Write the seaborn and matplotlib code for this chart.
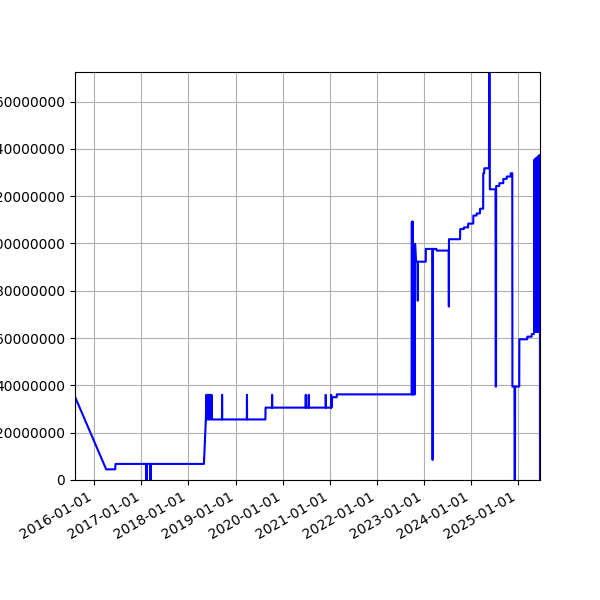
import pandas as pd
import seaborn as sns
import matplotlib
matplotlib.use("Agg")
import matplotlib.pyplot as plt
import matplotlib.dates as mdates
from matplotlib.ticker import ScalarFormatter

# === Data: daily records (values in millions) ===
dates = [
    "2015-08-05", "2016-04-03", "2016-06-12", "2016-06-14",
    "2017-02-09", "2017-02-10", "2017-02-11", "2017-03-12", "2017-03-13", "2017-03-14",
    "2018-05-01", "2018-05-16",
    "2018-05-20", "2018-05-24", "2018-05-28", "2018-06-01", "2018-06-05", "2018-06-09",
    "2018-06-13", "2018-06-17", "2018-06-21", "2018-06-25", "2018-06-29", "2018-07-03",
    "2018-09-18", "2018-09-19", "2018-09-20",
    "2019-03-30", "2019-03-31", "2019-04-01",
    "2019-08-21", "2019-08-22",
    "2019-10-11", "2019-10-12", "2019-10-13",
    "2020-06-28", "2020-06-29", "2020-06-30",
    "2020-07-21", "2020-07-22", "2020-07-23",
    "2020-11-30", "2020-12-01", "2020-12-03",
    "2021-01-11", "2021-01-12", "2021-01-14", "2021-01-20", "2021-02-24", "2021-02-25",
    "2022-09-28", "2022-09-30", "2022-10-02", "2022-10-04", "2022-10-06", "2022-10-08",
    "2022-10-10", "2022-10-13", "2022-10-16", "2022-10-19", "2022-10-22", "2022-10-25",
    "2022-11-01", "2022-11-14", "2022-11-15", "2022-11-16",
    "2023-01-16", "2023-01-17", "2023-03-09", "2023-03-10", "2023-03-11",
    "2023-04-09", "2023-04-10", "2023-07-13", "2023-07-14", "2023-07-15",
    "2023-10-09", "2023-10-10", "2023-11-07", "2023-11-08", "2023-12-10", "2023-12-11",
    "2024-01-19", "2024-01-20", "2024-02-14", "2024-02-15", "2024-03-11", "2024-03-12",
    "2024-04-05", "2024-04-06", "2024-04-13", "2024-04-14",
    "2024-05-20", "2024-05-22", "2024-05-25", "2024-05-27",
    "2024-07-10", "2024-07-11", "2024-07-14", "2024-07-15",
    "2024-08-08", "2024-08-09", "2024-09-08", "2024-09-09", "2024-10-04", "2024-10-05",
    "2024-11-04", "2024-11-05", "2024-11-17", "2024-11-18",
    "2024-12-04", "2024-12-05", "2024-12-08", "2024-12-09",
    "2025-01-10", "2025-01-11", "2025-03-13", "2025-03-14", "2025-04-16", "2025-04-17",
    "2025-05-04", "2025-05-05",
    "2025-05-06", "2025-05-09", "2025-05-12", "2025-05-15", "2025-05-18", "2025-05-21",
    "2025-05-24", "2025-05-27", "2025-05-30", "2025-06-02", "2025-06-05", "2025-06-08",
    "2025-06-11", "2025-06-14", "2025-06-17", "2025-06-19", "2025-06-20",
]
values_m = [
    35.2, 4.5, 4.5, 6.8,
    6.8, 0.0, 6.8, 6.8, 0.0, 6.8,
    6.8, 25.6,
    36.0, 25.6, 36.0, 25.6, 36.0, 25.6,
    36.0, 25.6, 36.0, 25.6, 36.0, 25.6,
    25.6, 36.0, 25.6,
    25.6, 36.0, 25.6,
    25.6, 30.6,
    30.6, 36.0, 30.6,
    30.6, 36.0, 30.6,
    30.6, 36.0, 30.6,
    30.6, 36.0, 30.6,
    30.6, 36.0, 30.6, 35.0, 35.0, 36.2,
    36.2, 109.2, 36.2, 109.2, 36.2, 109.2,
    36.2, 99.8, 36.2, 99.8, 36.2, 99.8,
    92.3, 92.3, 75.8, 92.3,
    92.3, 97.7, 97.7, 8.5, 97.7,
    97.7, 97.0, 97.0, 73.3, 101.8,
    101.8, 106.1, 106.1, 106.8, 106.8, 108.4,
    108.4, 111.8, 111.8, 112.7, 112.7, 114.7,
    114.7, 129.7, 129.7, 131.8,
    131.8, 190.0, 190.0, 122.9,
    122.9, 39.5, 39.5, 124.3,
    124.3, 125.5, 125.5, 127.3, 127.3, 128.3,
    128.3, 129.7, 129.7, 39.5,
    39.5, 0.0, 0.0, 39.5,
    39.5, 59.5, 59.5, 60.6, 60.6, 61.7,
    61.7, 62.7,
    135.3, 62.7, 135.6, 62.7, 135.9, 62.7,
    136.2, 62.7, 136.5, 62.7, 136.8, 62.7,
    137.1, 62.7, 137.4, 137.4, 0.0,
]

df = pd.DataFrame({"date": pd.to_datetime(dates), "value": [v * 1e6 for v in values_m]})

# === Plot ===
fig, ax = plt.subplots(figsize=(6, 6), dpi=100)
sns.lineplot(data=df, x="date", y="value", color="blue", linewidth=1.5,
             estimator=None, ax=ax)

ax.set_xlabel("")
ax.set_ylabel("")
ax.set_xlim(df["date"].min(), df["date"].max())
ax.set_ylim(0, 172.5e6)
ax.xaxis.set_major_locator(mdates.YearLocator())
ax.xaxis.set_major_formatter(mdates.DateFormatter("%Y-%m-%d"))
fmt = ScalarFormatter(useOffset=False)
fmt.set_scientific(False)
ax.yaxis.set_major_formatter(fmt)
ax.grid(True)
fig.autofmt_xdate()

fig.savefig("out.png", dpi=100)
